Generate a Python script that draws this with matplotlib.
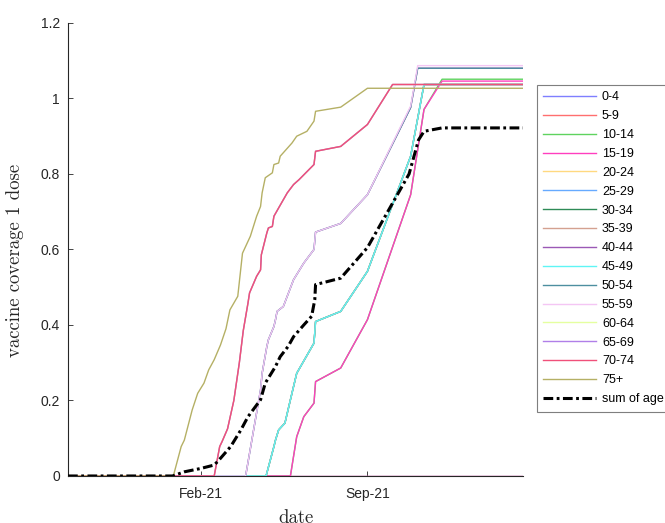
import matplotlib
matplotlib.use("Agg")
from matplotlib import pyplot as plt
import matplotlib.dates as mdates
from matplotlib.ticker import FuncFormatter
import pandas as pd

plt.rcParams["font.family"] = ["Liberation Sans", "DejaVu Sans"]
plt.rcParams["lines.scale_dashes"] = False

# Age groups and line colours (legend order)
age_groups = ["0-4", "5-9", "10-14", "15-19", "20-24", "25-29", "30-34", "35-39",
              "40-44", "45-49", "50-54", "55-59", "60-64", "65-69", "70-74", "75+"]
colors = ["#7f7fff", "#ff6f6f", "#5fd35f", "#ff3fbf", "#ffd980", "#66aaff",
          "#2e8b57", "#d4a190", "#9b59b6", "#5ff5f5", "#4d8fa0", "#f4c6f4",
          "#e5ffa0", "#b07fe8", "#f0507a", "#b5b065"]

# Coverage curves
dates_zero = ["2020-08-16", "2022-03-18"]
cov_zero = [0, 0]

dates_teen = ["2020-08-16", "2021-05-26", "2021-06-03", "2021-06-12", "2021-06-25",
              "2021-06-27", "2021-07-29", "2021-09-01", "2021-10-26", "2021-11-12",
              "2021-12-05", "2022-03-18"]
cov_10_14 = [0, 0, 0.104, 0.157, 0.193, 0.25, 0.286, 0.414, 0.745, 0.971, 1.051, 1.051]
cov_15_19 = [0, 0, 0.104, 0.157, 0.193, 0.25, 0.286, 0.414, 0.745, 0.971, 1.046, 1.046]

dates_young = ["2020-08-16", "2021-04-25", "2021-05-05", "2021-05-07", "2021-05-11",
               "2021-05-19", "2021-05-26", "2021-06-03", "2021-06-25", "2021-06-27",
               "2021-07-29", "2021-09-01", "2021-10-26", "2021-11-12", "2022-03-18"]
cov_young = [0, 0, 0.078, 0.095, 0.122, 0.14, 0.202, 0.272, 0.352, 0.409,
             0.436, 0.542, 0.847, 1.037, 1.037]

dates_mid = ["2020-08-16", "2021-03-30", "2021-04-18", "2021-04-20", "2021-04-26",
             "2021-04-28", "2021-05-05", "2021-05-07", "2021-05-09", "2021-05-17",
             "2021-05-30", "2021-06-12", "2021-06-25", "2021-06-27", "2021-07-29",
             "2021-09-01", "2021-10-26", "2021-11-04", "2022-03-18"]
cov_50_54 = [0, 0, 0.228, 0.272, 0.343, 0.361, 0.396, 0.414, 0.436, 0.449, 0.52,
             0.564, 0.60, 0.646, 0.669, 0.745, 0.976, 1.080, 1.080]
cov_55_59 = [0, 0, 0.228, 0.272, 0.343, 0.361, 0.396, 0.414, 0.436, 0.449, 0.52,
             0.564, 0.60, 0.646, 0.669, 0.745, 0.98, 1.087, 1.087]

dates_old = ["2020-08-16", "2021-02-18", "2021-02-25", "2021-02-28", "2021-03-07",
             "2021-03-15", "2021-03-22", "2021-03-27", "2021-04-02", "2021-04-04",
             "2021-04-13", "2021-04-18", "2021-04-19", "2021-04-26", "2021-04-28",
             "2021-05-03", "2021-05-05", "2021-05-11", "2021-05-22", "2021-05-30",
             "2021-06-06", "2021-06-25", "2021-06-27", "2021-07-29", "2021-09-01",
             "2021-10-03", "2022-03-18"]
cov_old = [0, 0, 0.078, 0.091, 0.125, 0.2, 0.3, 0.385, 0.458, 0.485, 0.529, 0.546,
           0.586, 0.644, 0.657, 0.661, 0.688, 0.71, 0.75, 0.772, 0.785, 0.825,
           0.86, 0.873, 0.931, 1.037, 1.037]

dates_75 = ["2020-08-16", "2020-12-28", "2021-01-07", "2021-01-11", "2021-01-21",
            "2021-01-28", "2021-02-05", "2021-02-11", "2021-02-18", "2021-02-26",
            "2021-03-05", "2021-03-10", "2021-03-20", "2021-03-26", "2021-04-05",
            "2021-04-13", "2021-04-18", "2021-04-20", "2021-04-24", "2021-05-03",
            "2021-05-05", "2021-05-11", "2021-05-13", "2021-05-28", "2021-06-03",
            "2021-06-16", "2021-06-25", "2021-06-27", "2021-07-29", "2021-09-01",
            "2022-03-18"]
cov_75 = [0, 0, 0.078, 0.095, 0.175, 0.219, 0.246, 0.281, 0.308, 0.347, 0.39,
          0.44, 0.476, 0.59, 0.635, 0.688, 0.714, 0.75, 0.79, 0.803, 0.825,
          0.829, 0.847, 0.882, 0.90, 0.913, 0.94, 0.966, 0.977, 1.027, 1.027]

dates_sum = ["2020-08-16", "2020-12-27", "2021-01-11", "2021-02-01", "2021-02-18",
             "2021-02-24", "2021-03-11", "2021-03-24", "2021-04-02", "2021-04-18",
             "2021-04-24", "2021-05-07", "2021-05-13", "2021-05-23", "2021-05-30",
             "2021-06-12", "2021-06-22", "2021-06-26", "2021-06-27", "2021-07-29",
             "2021-09-01", "2021-10-24", "2021-11-05", "2021-11-12", "2021-12-05",
             "2022-03-18"]
cov_sum = [0, 0, 0.011, 0.02, 0.029, 0.042, 0.078, 0.122, 0.157, 0.202, 0.246,
           0.29, 0.316, 0.343, 0.369, 0.40, 0.423, 0.467, 0.507, 0.524, 0.605,
           0.80, 0.89, 0.913, 0.922, 0.922]

# which curve each age group follows
series = {
    "0-4": (dates_zero, cov_zero), "5-9": (dates_zero, cov_zero),
    "10-14": (dates_teen, cov_10_14), "15-19": (dates_teen, cov_15_19),
    "20-24": (dates_young, cov_young), "25-29": (dates_young, cov_young),
    "30-34": (dates_young, cov_young), "35-39": (dates_young, cov_young),
    "40-44": (dates_mid, cov_50_54), "45-49": (dates_young, cov_young),
    "50-54": (dates_mid, cov_50_54), "55-59": (dates_mid, cov_55_59),
    "60-64": (dates_old, cov_old), "65-69": (dates_old, cov_old),
    "70-74": (dates_old, cov_old), "75+": (dates_75, cov_75),
}

yticks = [0, 0.2, 0.4, 0.6, 0.8, 1.0, 1.2]
xticks = ["2021-02-01", "2021-09-01"]

fig = plt.figure(figsize=(6.65, 5.23), dpi=100)
ax = fig.add_axes([0.1023, 0.0899, 0.6842, 0.8662])

for name, col in zip(age_groups, colors):
    d, v = series[name]
    ax.plot(pd.to_datetime(d), v, color=col, lw=1.0, label=name, zorder=3)

ax.plot(pd.to_datetime(dates_sum), cov_sum, color="black", lw=2.2,
        dashes=(7, 2.5, 2, 2.5), label="sum of age groups", zorder=4)

ax.set_xlim(pd.to_datetime(dates_zero[0]), pd.to_datetime(dates_zero[-1]))
ax.set_ylim(0, 1.2)
ax.set_yticks(yticks)
ax.yaxis.set_major_formatter(FuncFormatter(lambda y, p: "%g" % y))
ax.set_xticks(pd.to_datetime(xticks))
ax.xaxis.set_major_formatter(mdates.DateFormatter("%b-%y"))

for s in ["top", "right"]:
    ax.spines[s].set_visible(False)
for s in ["left", "bottom"]:
    ax.spines[s].set_color("#262626")
    ax.spines[s].set_linewidth(0.8)
ax.tick_params(direction="in", length=3.5, width=0.6, colors="#262626",
               labelsize=10, labelcolor="#262626")
ax.tick_params(axis="y", pad=5.8)
ax.tick_params(axis="x", pad=8)

ax.set_ylabel("vaccine coverage 1 dose", family="cmr10", fontsize=13.5, color="#262626")
ax.yaxis.set_label_coords(-0.097, 0.475)
ax.set_xlabel("date", family="cmr10", fontsize=13.5, color="#262626")
ax.xaxis.set_label_coords(0.5, -0.072)

leg = fig.legend(loc="upper left", bbox_to_anchor=(537 / 665, 1 - 85 / 523),
                 bbox_transform=fig.transFigure, borderaxespad=0, fontsize=9,
                 handlelength=4.2, handletextpad=0.5, labelspacing=0.55,
                 borderpad=0.5, fancybox=False, framealpha=1)
leg.get_frame().set_edgecolor("#7f7f7f")
leg.get_frame().set_linewidth(0.8)

fig.savefig("out.png", dpi=100)
